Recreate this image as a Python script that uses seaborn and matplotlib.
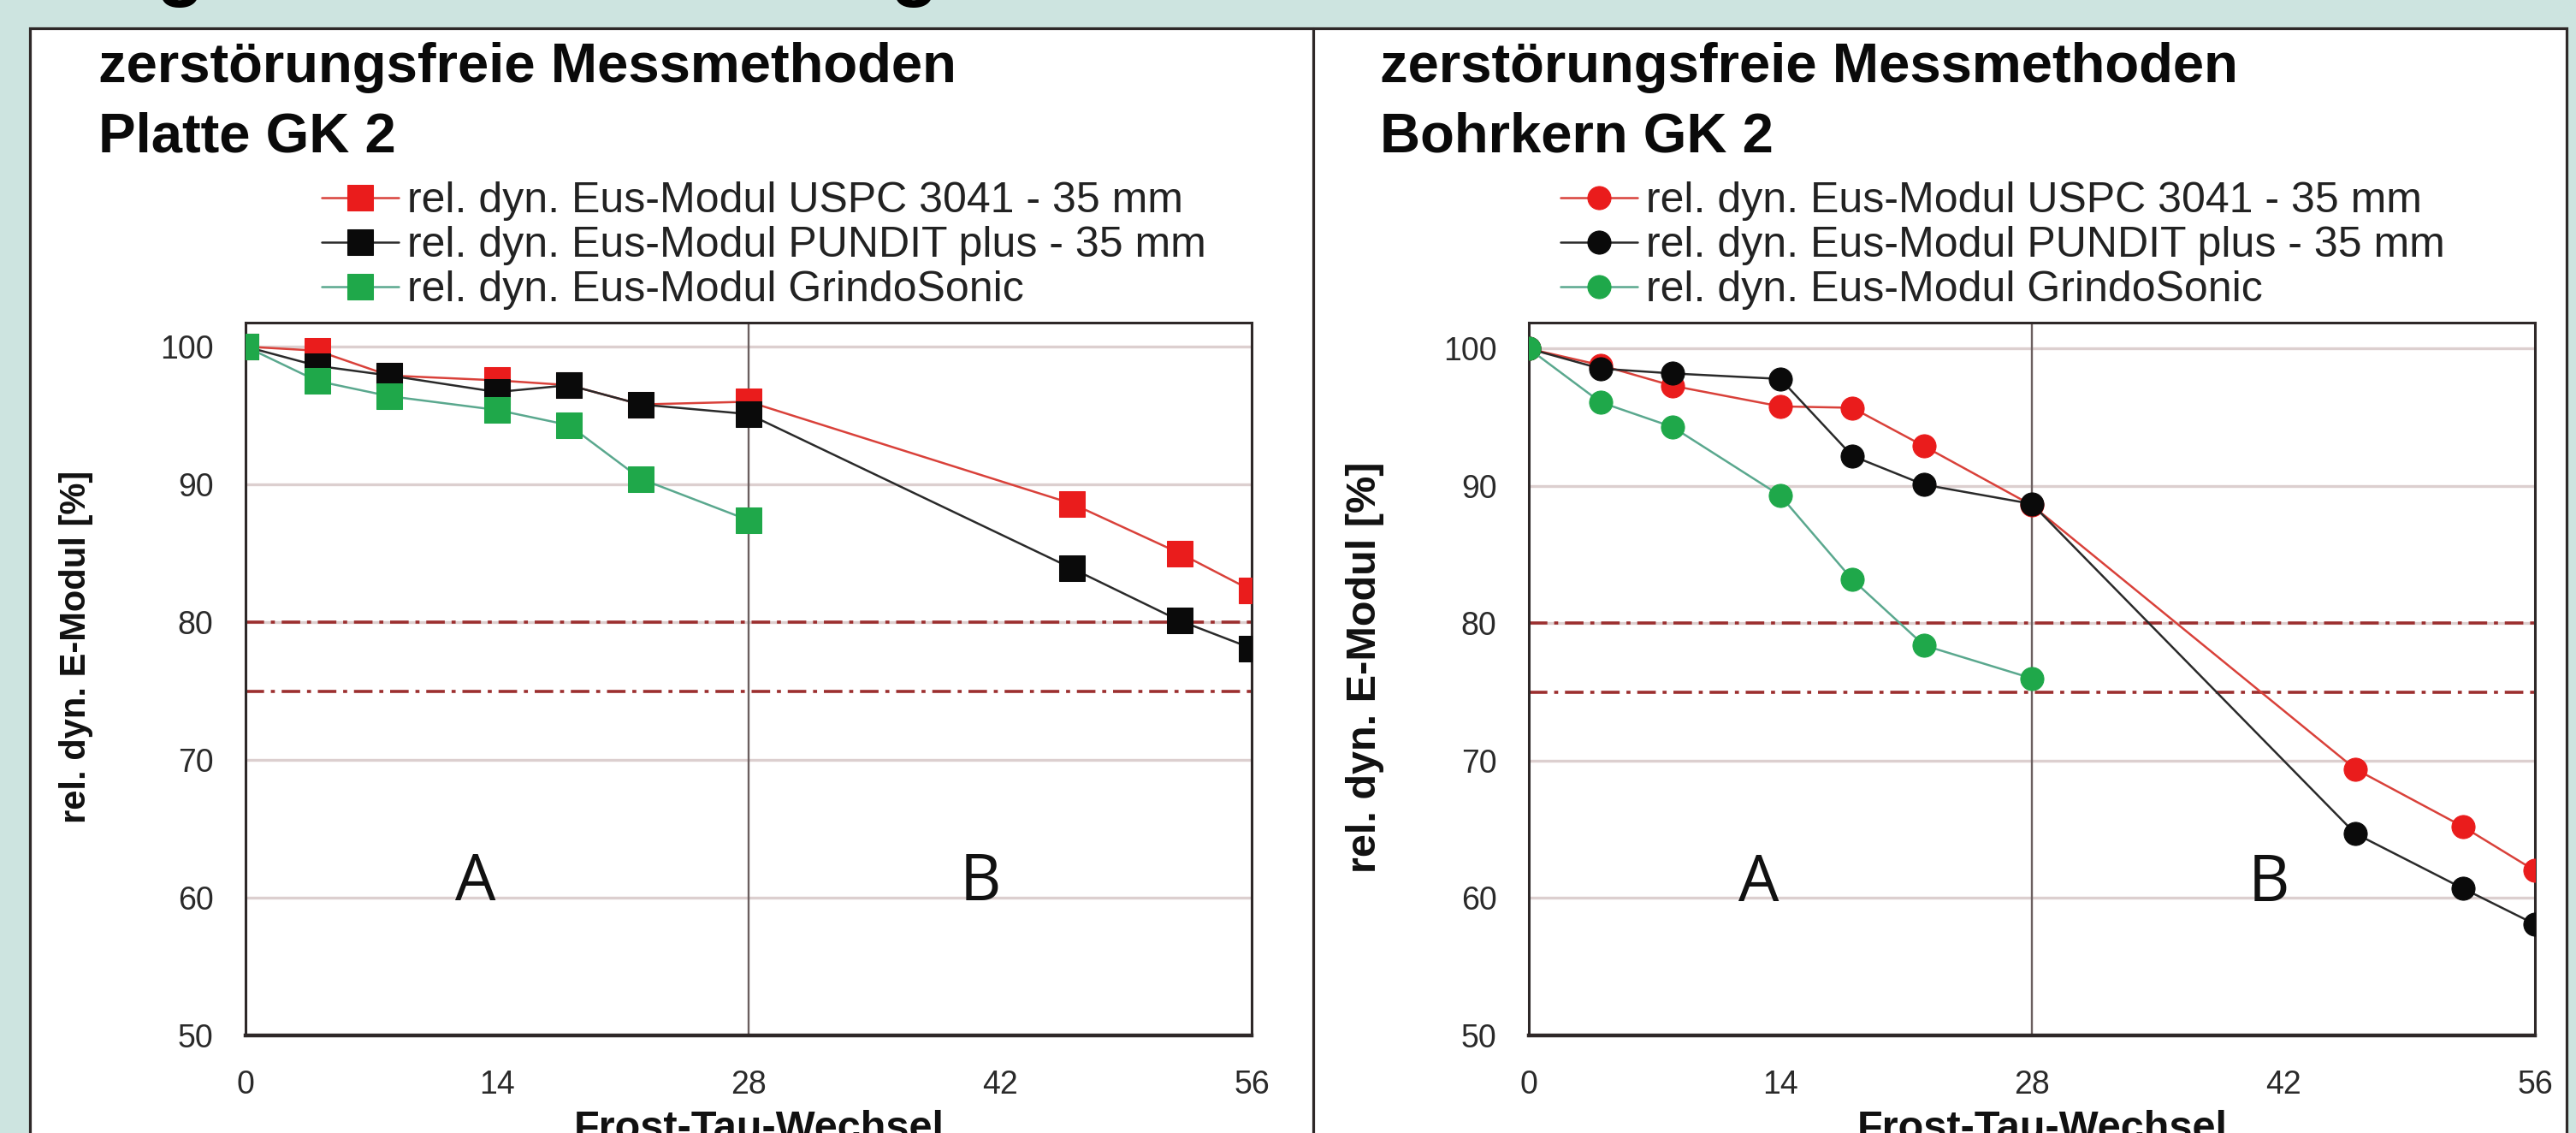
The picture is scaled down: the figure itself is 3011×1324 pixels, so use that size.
import numpy as np
import pandas as pd
import matplotlib
matplotlib.use("Agg")
import matplotlib.pyplot as plt
from matplotlib.patches import Rectangle
from matplotlib.lines import Line2D
import seaborn as sns

# ---------------- data ----------------
x_cycles = [0, 4, 8, 14, 18, 22, 28, 46, 52, 56]
x_short = [0, 4, 8, 14, 18, 22, 28]

platte_uspc = [100, 99.7, 97.9, 97.55, 97.2, 95.8, 96.0, 88.6, 85.0, 82.3]
platte_pundit = [100, 98.6, 97.9, 96.7, 97.2, 95.8, 95.1, 83.9, 80.1, 78.1]
platte_grindo = [100, 97.5, 96.4, 95.4, 94.3, 90.4, 87.4]

bohr_uspc = [100, 98.8, 97.3, 95.8, 95.7, 92.9, 88.6, 69.4, 65.2, 62.0]
bohr_pundit = [100, 98.55, 98.2, 97.8, 92.2, 90.1, 88.7, 64.7, 60.7, 58.1]
bohr_grindo = [100, 96.1, 94.3, 89.3, 83.2, 78.4, 76.0]

labels = ["rel. dyn. Eus-Modul USPC 3041 - 35 mm",
          "rel. dyn. Eus-Modul PUNDIT plus - 35 mm",
          "rel. dyn. Eus-Modul GrindoSonic"]
titles_left = ["zerstörungsfreie Messmethoden", "Platte GK 2"]
titles_right = ["zerstörungsfreie Messmethoden", "Bohrkern GK 2"]
y_ticks = [50, 60, 70, 80, 90, 100]
x_ticks = [0, 14, 28, 42, 56]
limit_lines = [80, 75]
ylabel = "rel. dyn. E-Modul [%]"
xlabel = "Frost-Tau-Wechsel"

# ---------------- style ----------------
sns.set_style("white")
plt.rcParams['font.family'] = ['Liberation Sans', 'DejaVu Sans']

W, H = 3011, 1324
fig = plt.figure(figsize=(W / 100, H / 100), dpi=100)
TEAL = '#cde4e0'
fig.patch.set_facecolor(TEAL)


def fx(px):
    return px / W


def fy(py):
    return 1 - py / H


# page frame (behind the axes)
fig.patches.append(Rectangle((fx(35), fy(1340)), fx(3000) - fx(35), fy(33) - fy(1340),
                             transform=fig.transFigure, facecolor='white',
                             edgecolor='#2e2828', linewidth=2.3, zorder=-5))
fig.lines.append(Line2D([fx(1535), fx(1535)], [fy(33), 0], transform=fig.transFigure,
                        color='#2e2828', linewidth=2.3, zorder=-4))

# obscured page heading (only descenders visible)
for xc in [210, 1068]:
    fig.text(fx(xc), fy(-10), "g", fontsize=66, fontweight='bold', color='black',
             ha='center', va='baseline')

RED, BLACK, GREEN = '#ea1c1c', '#0a0a0a', '#1fa84a'
RED_L, BLACK_L, GREEN_L = '#d9413a', '#2a2a2a', '#5aa88e'


def setup_axes(rect, ytop):
    ax = fig.add_axes(rect)
    ax.set_facecolor('none')
    ax.set_xlim(0, 56)
    ax.set_ylim(50, ytop)
    ax.set_xticks(x_ticks)
    ax.set_yticks(y_ticks)
    ax.set_xticklabels([str(v) for v in x_ticks])
    ax.set_yticklabels([str(v) for v in y_ticks])
    ax.tick_params(axis='both', direction='out', length=6, width=1.5, color='#333',
                   labelsize=27, labelcolor='#2a2a2a')
    ax.tick_params(axis='y', pad=21)
    ax.tick_params(axis='x', pad=23)
    for s in ax.spines.values():
        s.set_color('#2e2828')
        s.set_linewidth(2.2)
    ax.spines['bottom'].set_linewidth(3.2)
    ax.yaxis.grid(True, color='#dccfcf', linewidth=2.4)
    ax.xaxis.grid(False)
    ax.set_axisbelow(True)
    for yv in limit_lines:
        ax.axhline(yv, color='#9c2f2f', linewidth=2.6, linestyle=(0, (6, 2.2, 1.3, 2.2)), zorder=1.5)
    ax.axvline(28, color='#6b5f5f', linewidth=1.7, zorder=1.6)
    return ax


def draw(ax, uspc, pundit, grindo, marker, ms):
    sns.lineplot(x=x_cycles, y=uspc, ax=ax, color=RED_L, linewidth=1.8, marker=marker,
                 markersize=ms, markerfacecolor=RED, markeredgecolor=RED, label=labels[0],
                 estimator=None, sort=False, zorder=3)
    sns.lineplot(x=x_cycles, y=pundit, ax=ax, color=BLACK_L, linewidth=1.8, marker=marker,
                 markersize=ms, markerfacecolor=BLACK, markeredgecolor=BLACK, label=labels[1],
                 estimator=None, sort=False, zorder=4)
    sns.lineplot(x=x_short, y=grindo, ax=ax, color=GREEN_L, linewidth=1.8, marker=marker,
                 markersize=ms, markerfacecolor=GREEN, markeredgecolor=GREEN, label=labels[2],
                 estimator=None, sort=False, zorder=5)
    ax.set_xlabel('')
    ax.set_ylabel('')


ax1 = setup_axes([fx(287), fy(1210), fx(1463) - fx(287), fy(377) - fy(1210)], 101.74)
draw(ax1, platte_uspc, platte_pundit, platte_grindo, 's', 21)
ax2 = setup_axes([fx(1787), fy(1210), fx(2963) - fx(1787), fy(377) - fy(1210)], 101.9)
draw(ax2, bohr_uspc, bohr_pundit, bohr_grindo, 'o', 19.5)

for ax, ax_x in [(ax1, 12.8), (ax2, 12.8)]:
    ax.text(ax_x, 61, "A", ha='center', va='center', fontsize=54,
            family=['Open Sans', 'DejaVu Sans'], color='#111', zorder=6)
for ax, bx in [(ax1, 40.9), (ax2, 41.2)]:
    ax.text(bx, 61, "B", ha='center', va='center', fontsize=54,
            family=['Open Sans', 'DejaVu Sans'], color='#111', zorder=6)

# legends
for ax, lx in [(ax1, 376), (ax2, 1824)]:
    h, l = ax.get_legend_handles_labels()
    ax.legend(h, l, loc='upper left', bbox_to_anchor=(fx(lx), fy(212)),
              bbox_transform=fig.transFigure, frameon=False, fontsize=36,
              handlelength=1.8, handletextpad=0.2, labelspacing=0.12,
              borderpad=0, borderaxespad=0, labelcolor='#222')

# titles
for tx, ttl in [(115, titles_left), (1613, titles_right)]:
    fig.text(fx(tx), fy(96), ttl[0], fontsize=47, fontweight='bold', va='baseline', color='#0a0a0a')
    fig.text(fx(tx), fy(177), ttl[1], fontsize=47, fontweight='bold', va='baseline', color='#0a0a0a')

# axis labels
fig.text(fx(89), fy(756), ylabel, rotation=90, ha='center', va='center', fontsize=30,
         fontweight='bold', color='#111')
fig.text(fx(1596), fy(780), ylabel, rotation=90, ha='center', va='center', fontsize=35,
         fontweight='bold', color='#111')
fig.text(fx(887), fy(1297), xlabel, ha='center', va='top', fontsize=35, fontweight='bold', color='#111')
fig.text(fx(2387), fy(1297), xlabel, ha='center', va='top', fontsize=35, fontweight='bold', color='#111')

fig.savefig("out.png", dpi=100, facecolor=fig.get_facecolor())
